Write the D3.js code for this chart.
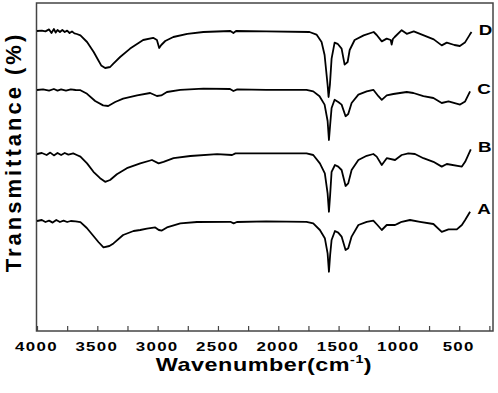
<!DOCTYPE html>
<html><head><meta charset="utf-8">
<script src="https://cdn.jsdelivr.net/npm/d3@7"></script>
<style>body{margin:0;background:#fff}svg{display:block}text{font-family:"Liberation Sans",Arial,sans-serif;font-weight:bold}</style>
</head><body>
<script>
// ---- data (wavenumber cm^-1, transmittance in arbitrary stacked units) ----
const seriesNames = ["A","B","C","D"];
const xTicks = [4000,3750,3500,3250,3000,2750,2500,2250,2000,1750,1500,1250,1000,750,500,250];
const xTickLabels = ["4000","","3500","","3000","","2500","","2000","","1500","","1000","","500",""];
const specD = [[4000,75],[3960,75.1],[3930,74.9],[3900,75.4],[3880,74.5],[3860,75.5],[3845,74.6],[3830,75.25],[3810,74.75],[3790,75.25],[3770,74.75],[3750,75.1],[3730,74.5],[3710,74.9],[3690,74.4],[3670,74.25],[3640,73.9],[3585,72.25],[3530,69.75],[3493,67.75],[3468,66.4],[3435,65.75],[3394,66],[3369,66.8],[3311,68.5],[3228,70.6],[3120,72.75],[3037,73.3],[3006,72.75],[2987,70.75],[2970,71.5],[2937,72.5],[2870,73.5],[2754,74.3],[2621,74.75],[2397,75],[2372,74.5],[2350,75],[2100,74.9],[1741,74.75],[1683,74.1],[1641,72.25],[1616,69],[1591,61.5],[1583,58.5],[1572,61.5],[1558,68.1],[1533,72.1],[1508,71.8],[1475,70.6],[1450,66.6],[1425,67.25],[1408,70.25],[1367,72.75],[1292,73.9],[1209,74.75],[1184,74],[1142,72.4],[1101,73.1],[1068,72.75],[1060,71.6],[1050,73],[1035,73.5],[977,75.2],[935,74.3],[877,74.9],[794,73.9],[711,72.9],[645,71.4],[603,72.1],[540,71.5],[495,71.25],[453,72.1],[412,74.1],[398,74.75]];
const specC = [[4000,60.25],[3950,60.4],[3900,60.1],[3860,60.5],[3830,60.1],[3800,60.4],[3760,60.1],[3720,60.4],[3680,60.25],[3640,60.2],[3585,59.3],[3518,57.5],[3452,56.4],[3410,56.25],[3352,57.25],[3286,58.1],[3170,58.9],[3062,59.5],[3006,58.75],[2970,58.9],[2923,59.75],[2812,60.3],[2621,60.6],[2400,60.5],[2372,60],[2340,60.4],[2100,60.3],[1766,60.3],[1710,59.9],[1658,58.7],[1616,56.6],[1591,52.5],[1580,47.75],[1570,51.5],[1558,55.75],[1533,57.8],[1503,57.25],[1475,56.6],[1442,53.7],[1420,54.25],[1392,57],[1336,59.1],[1267,59.9],[1212,60.3],[1170,58.7],[1142,57.8],[1101,58.9],[1046,59.25],[991,59.5],[935,59.75],[880,59.5],[797,58.7],[714,58.25],[645,57],[589,57.4],[493,56.6],[451,57.4],[410,59.9]];
const specB = [[4000,44.25],[3960,44.5],[3920,44],[3890,44.6],[3860,43.9],[3830,44.5],[3800,44],[3770,44.5],[3740,44.1],[3700,44.4],[3670,44],[3640,43.6],[3585,41.9],[3532,39.8],[3477,38.2],[3435,37.3],[3394,37.75],[3338,39.2],[3255,40.7],[3144,41.9],[3047,42.75],[2992,41.9],[2951,42.3],[2868,43.2],[2729,43.75],[2507,44.2],[2383,44],[2355,44.4],[2100,44.4],[1766,44.4],[1710,44],[1655,41.9],[1614,39.4],[1591,34.4],[1580,29.8],[1570,34],[1558,39.8],[1530,41.5],[1503,41.1],[1475,40.25],[1442,36.25],[1420,36.9],[1392,40.25],[1336,42.75],[1267,43.8],[1212,44.25],[1184,43.6],[1142,41.5],[1101,43.2],[1032,42.75],[977,44],[922,44.4],[867,44.25],[797,43.2],[714,42.3],[645,41.1],[603,41.75],[478,41.1],[451,42.3],[404,45.4]];
const specA = [[4000,27.5],[3960,27.75],[3930,27.25],[3900,27.6],[3870,27.1],[3840,27.75],[3810,27.25],[3780,27.6],[3750,27.25],[3720,27.5],[3680,27.4],[3640,27.2],[3587,25.75],[3532,23.75],[3491,22.25],[3449,20.9],[3400,21.25],[3366,21.9],[3286,24],[3200,25],[3144,25.25],[3089,25.6],[3020,25.9],[2990,25.25],[2965,25.1],[2923,25.9],[2812,26.9],[2674,27.25],[2397,27.3],[2370,26.9],[2343,27.25],[2100,27.4],[1766,27.3],[1710,26.9],[1655,25.25],[1614,23.2],[1591,19.4],[1580,14.8],[1570,19],[1558,22.75],[1530,25],[1503,24.6],[1475,23.6],[1442,20.25],[1420,20.7],[1392,23.6],[1336,26.5],[1267,27.3],[1212,27.6],[1178,26.5],[1142,25.25],[1101,26.5],[1032,26.5],[1004,26.9],[977,27.3],[908,27.75],[825,27.3],[714,26.75],[645,24.8],[589,25.4],[520,25.4],[478,26.5],[451,27.75],[410,29.8]];
const spectra = [specA, specB, specC, specD];

// ---- layout ----
const W = 498, H = 393;
const m = {left:37, right:5, top:3, bottom:62};
const svg = d3.select("body").append("svg").attr("width", W).attr("height", H);
const x = d3.scaleLinear().domain([4000, 220]).range([m.left, W - m.right]);
const y = d3.scaleLinear().domain([0, 82]).range([H - m.bottom, m.top]);

// frame
svg.append("rect").attr("x", m.left - 0.5).attr("y", m.top).attr("width", W - m.right - m.left + 0.5)
  .attr("height", H - m.bottom - m.top).attr("fill", "none").attr("stroke", "#444").attr("stroke-width", 1.5);

// bottom axis, ticks pointing inward
const ax = svg.append("g").attr("transform", `translate(0,${H - m.bottom})`)
  .call(d3.axisBottom(x).tickValues(xTicks).tickSizeInner(-5).tickSizeOuter(0).tickPadding(11)
    .tickFormat((d, i) => xTickLabels[i]));
ax.select(".domain").remove();
ax.selectAll(".tick line").attr("stroke", "#444").attr("stroke-width", 1.2);
ax.selectAll(".tick text").attr("fill", "#000").attr("font-size", 13).attr("letter-spacing", 1)
  .attr("transform", "translate(-1,0) scale(1.3,1)");

// lines
const line = d3.line().x(d => x(d[0])).y(d => y(d[1]));
svg.append("g").selectAll("path").data(spectra).join("path")
  .attr("d", line).attr("fill", "none").attr("stroke", "#000").attr("stroke-width", 1.8)
  .attr("stroke-linejoin", "round");

// series labels
svg.append("g").selectAll("g").data(spectra).join("g")
  .attr("transform", d => { const e = d[d.length - 1]; return `translate(${x(e[0]) + 14},${y(e[1]) + 2.5}) scale(1.25,1)`; })
  .append("text").attr("text-anchor", "middle").attr("font-size", 15).attr("fill", "#000")
  .text((d, i) => seriesNames[i]);

// axis titles
const xt = svg.append("text").attr("transform", "translate(264,371) scale(1.3,1)")
  .attr("text-anchor", "middle").attr("font-size", 18).attr("letter-spacing", 0.4).attr("fill", "#000");
xt.append("tspan").text("Wavenumber(cm");
xt.append("tspan").attr("font-size", 11).attr("dy", -8).text("-1");
xt.append("tspan").attr("dy", 8).text(")");

svg.append("text").attr("transform", "translate(21,152) rotate(-90)")
  .attr("text-anchor", "middle").attr("font-size", 22).attr("letter-spacing", 3).attr("fill", "#000")
  .text("Transmittance (%)");
</script>
</body></html>
